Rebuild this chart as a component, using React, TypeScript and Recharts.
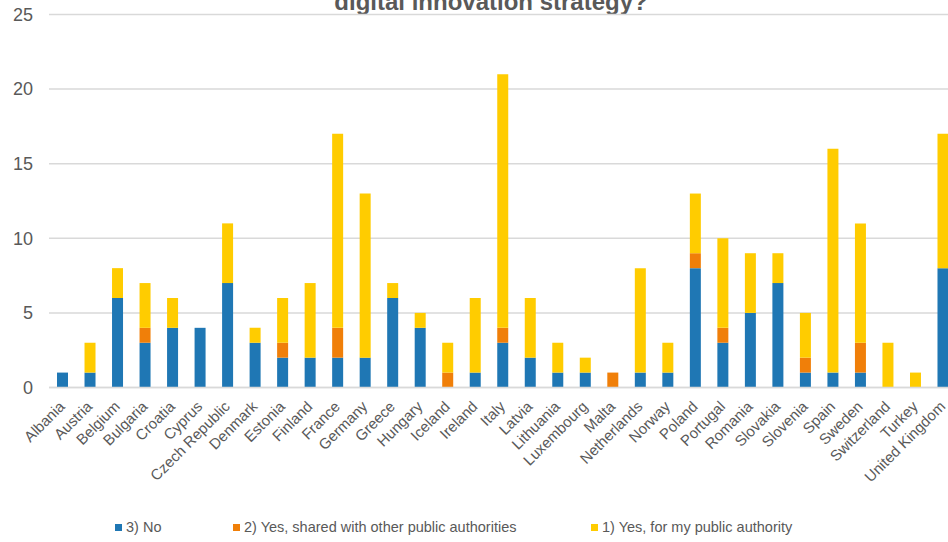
import { BarChart, Bar, XAxis, YAxis, CartesianGrid } from "recharts";

const countries = [
  "Albania", "Austria", "Belgium", "Bulgaria", "Croatia", "Cyprus", "Czech Republic", "Denmark",
  "Estonia", "Finland", "France", "Germany", "Greece", "Hungary", "Iceland", "Ireland", "Italy",
  "Latvia", "Lithuania", "Luxembourg", "Malta", "Netherlands", "Norway", "Poland", "Portugal",
  "Romania", "Slovakia", "Slovenia", "Spain", "Sweden", "Switzerland", "Turkey", "United Kingdom",
];
const no = [1, 1, 6, 3, 4, 4, 7, 3, 2, 2, 2, 2, 6, 4, 0, 1, 3, 2, 1, 1, 0, 1, 1, 8, 3, 5, 7, 1, 1, 1, 0, 0, 8];
const yesShared = [0, 0, 0, 1, 0, 0, 0, 0, 1, 0, 2, 0, 0, 0, 1, 0, 1, 0, 0, 0, 1, 0, 0, 1, 1, 0, 0, 1, 0, 2, 0, 0, 0];
const yesMine = [0, 2, 2, 3, 2, 0, 4, 1, 3, 5, 13, 11, 1, 1, 2, 5, 17, 4, 2, 1, 0, 7, 2, 4, 6, 4, 2, 3, 15, 8, 3, 1, 9];
const yTicks = [0, 5, 10, 15, 20, 25];

const seriesNames = ["3) No", "2) Yes, shared with other public authorities", "1) Yes, for my public authority"];
const colors = ["#1f77b4", "#f07f09", "#ffcc00"];
const legendLeft = [115, 233, 591];

const data = countries.map((c, i) => ({ country: c, no: no[i], shared: yesShared[i], mine: yesMine[i] }));

const FONT = "'Liberation Sans', Arial, sans-serif";
const GREY = "#595959";

function CountryTick({ x, y, payload }: any) {
  const tx = x + 3;
  const ty = y + 12;
  return (
    <text
      x={tx}
      y={ty}
      transform={`rotate(-45, ${tx}, ${ty})`}
      textAnchor="end"
      fontSize={15}
      fontFamily={FONT}
      fill={GREY}
    >
      {payload.value}
    </text>
  );
}

export default function App() {
  return (
    <div style={{ position: "fixed", left: 0, top: 0, width: 948, height: 542, overflow: "hidden", background: "#fff" }}>
      <svg width={948} height={30} style={{ position: "absolute", left: 0, top: 0 }}>
        <text x={491} y={10} textAnchor="middle" fontSize={24} fontWeight="bold" fontFamily={FONT} fill={GREY}>
          digital innovation strategy?
        </text>
      </svg>
      <div style={{ position: "absolute", left: 0, top: 0 }}>
        <BarChart
          width={957}
          height={542}
          data={data}
          margin={{ top: 14.5, right: 0, left: 0, bottom: 54.5 }}
          barSize={11}
        >
          <CartesianGrid vertical={false} stroke="#d9d9d9" strokeWidth={1.5} />
          <XAxis
            dataKey="country"
            interval={0}
            height={100}
            tick={<CountryTick />}
            tickLine={false}
            axisLine={{ stroke: "#d9d9d9", strokeWidth: 1.5 }}
          />
          <YAxis
            width={49}
            domain={[0, 25]}
            ticks={yTicks}
            tickSize={0}
            tickMargin={16}
            axisLine={false}
            tick={{ fontSize: 18, fill: GREY, fontFamily: FONT }}
          />
          <Bar dataKey="no" stackId="a" fill={colors[0]} isAnimationActive={false} />
          <Bar dataKey="shared" stackId="a" fill={colors[1]} isAnimationActive={false} />
          <Bar dataKey="mine" stackId="a" fill={colors[2]} isAnimationActive={false} />
        </BarChart>
      </div>
      {seriesNames.map((name, i) => (
        <div
          key={name}
          style={{
            position: "absolute",
            left: legendLeft[i],
            top: 519,
            display: "flex",
            alignItems: "center",
            fontFamily: FONT,
            fontSize: 14.5,
            color: GREY,
            whiteSpace: "nowrap",
          }}
        >
          <span style={{ display: "inline-block", width: 7, height: 7, background: colors[i], marginRight: 4 }} />
          {name}
        </div>
      ))}
    </div>
  );
}
